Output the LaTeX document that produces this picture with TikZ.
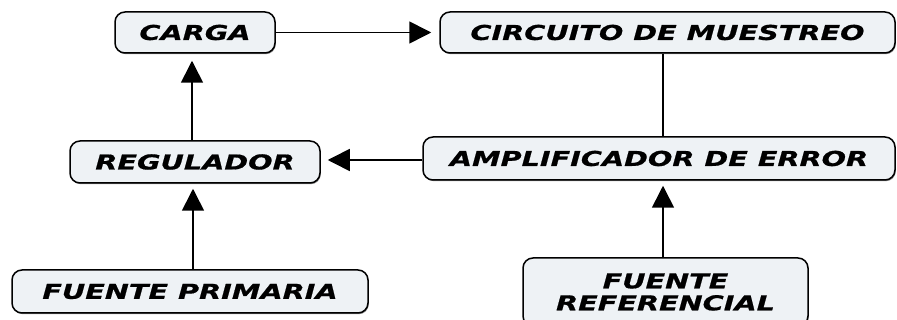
\documentclass[tikz,border=0pt]{standalone}
\usepackage{fontspec}
\newfontfamily\boxfont{DejaVu Sans}[FakeStretch=1.4, FakeBold=0.8]
\usetikzlibrary{arrows.meta,shadows}
\definecolor{boxfill}{HTML}{EEF2F5}
\tikzset{
  blk/.style={draw=black, line width=1.5pt, fill=boxfill, rounded corners=10pt,
    inner sep=0pt, align=center,
    font=\boxfont\bfseries\itshape\fontsize{20.5}{22}\selectfont,
    drop shadow={shadow xshift=0.8pt, shadow yshift=-1.2pt, fill=black!45, opacity=1}},
  conn/.style={line width=1.6pt, draw=black},
  arr/.style={conn, -{Triangle[length=22pt, width=22pt]}}
}
\begin{document}
\begin{tikzpicture}[x=1pt, y=-1pt]
\useasboundingbox (0,0) rectangle (897,320);
\node[blk, minimum width=160pt, minimum height=41pt] (carga) at (195,32.5) {CARGA};
\node[blk, minimum width=455pt, minimum height=41pt] (circ) at (667.5,32.5) {CIRCUITO DE MUESTREO};
\node[blk, minimum width=250pt, minimum height=42pt] (reg) at (195,162) {REGULADOR};
\node[blk, minimum width=472pt, minimum height=43pt] (amp) at (659,158.5) {AMPLIFICADOR DE ERROR};
\node[blk, minimum width=356pt, minimum height=43pt] (fp) at (190,291.5) {FUENTE PRIMARIA};
\node[blk, minimum width=285pt, minimum height=68pt] (fr) at (665.5,292) {FUENTE\\REFERENCIAL};

\draw[arr, shorten >=8pt] (carga.east) -- (circ.west);
\draw[conn] (circ.south -| 663,0) -- (amp.north -| 663,0);
\draw[arr, shorten >=7pt] (amp.west |- 0,160) -- (reg.east |- 0,160);
\draw[arr, shorten >=7pt] (reg.north -| 192,0) -- (carga.south -| 192,0);
\draw[arr, shorten >=5pt] (fp.north -| 193,0) -- (reg.south -| 193,0);
\draw[arr, shorten >=5pt] (fr.north -| 663,0) -- (amp.south -| 663,0);
\end{tikzpicture}
\end{document}
